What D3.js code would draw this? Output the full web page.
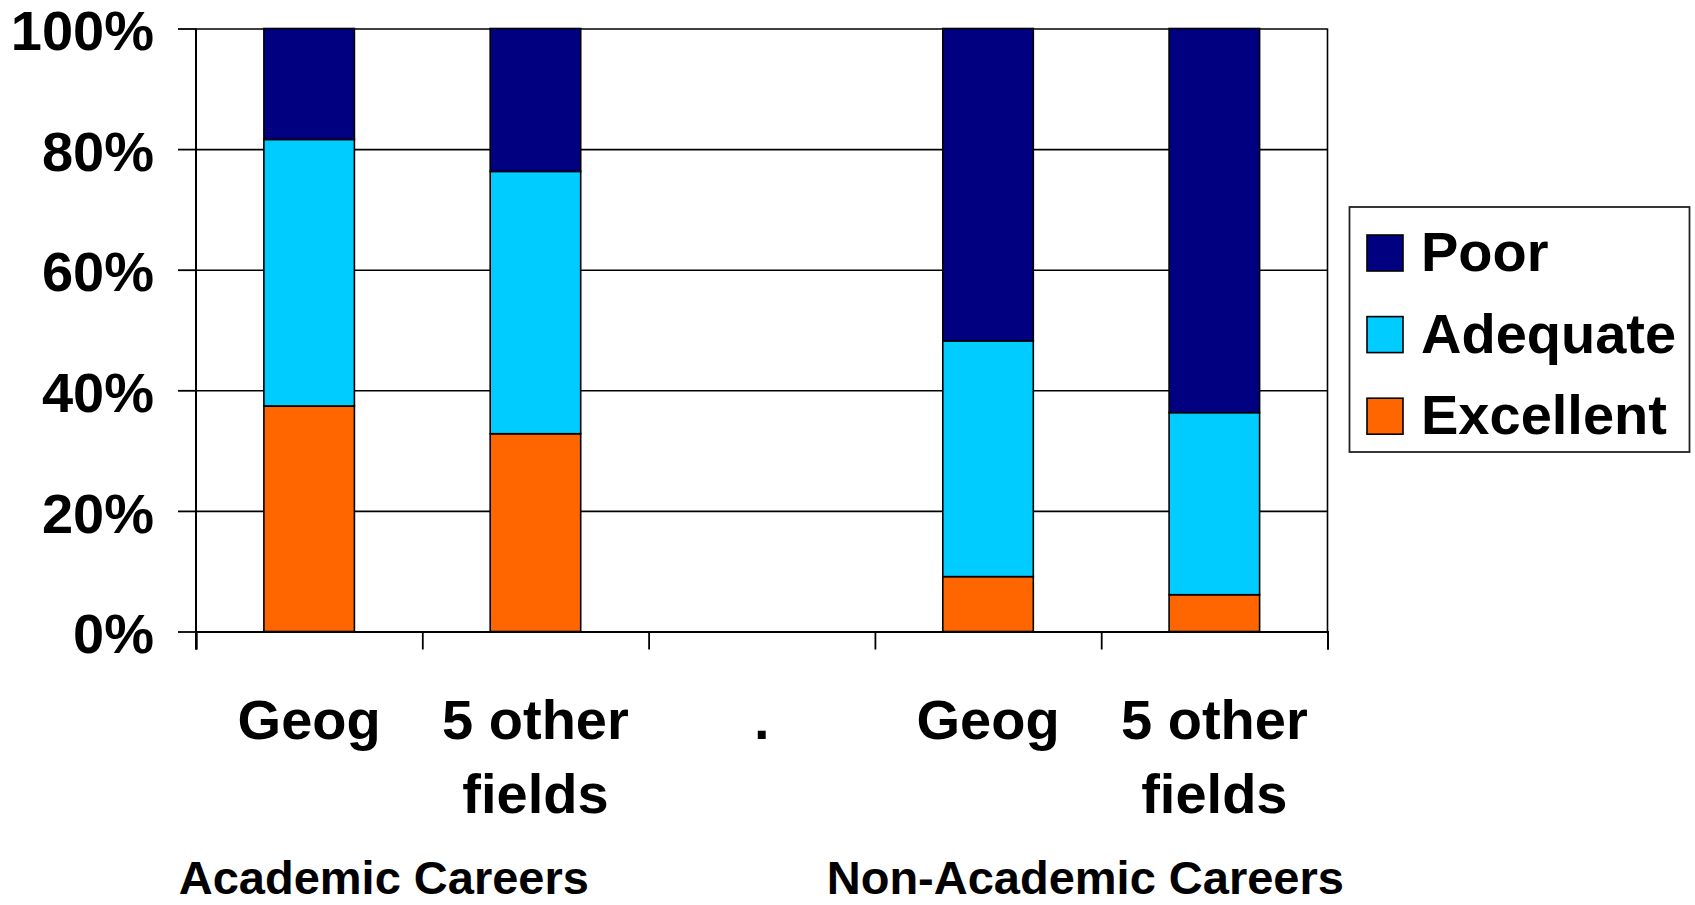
<!DOCTYPE html>
<html>
<head>
<meta charset="utf-8">
<script src="https://cdn.jsdelivr.net/npm/d3@7"></script>
<style>
  html, body { margin: 0; padding: 0; background: #fff; }
  svg { display: block; font-family: "Liberation Sans", Arial, sans-serif; font-weight: bold; }
</style>
</head>
<body>
<svg id="chart" width="1695" height="905"></svg>
<script>
// ---- data ----
const categories = ["Geog", "5 other fields", ".", "Geog", "5 other fields"];
const categoryLines = [["Geog"], ["5 other", "fields"], ["."], ["Geog"], ["5 other", "fields"]];
const seriesNames = ["Excellent", "Adequate", "Poor"];
const excellent = [37.4, 32.8, 0, 9.1, 6.1];
const adequate  = [44.2, 43.5, 0, 39.1, 30.2];
const poor      = [18.4, 23.7, 0, 51.8, 63.7];
const yTicks = [0, 20, 40, 60, 80, 100];
const groupLabels = ["Academic Careers", "Non-Academic Careers"];
const groupCenters = [0.83, 3.93]; // in category-boundary units
const colors = { Poor: "#000080", Adequate: "#00CCFF", Excellent: "#FF6600" };

// ---- layout ----
const L = 196, R = 1327.5, T = 28.5, B = 631.5;
const svg = d3.select("#chart");

const x = d3.scaleBand().domain(d3.range(categories.length)).range([L, R])
  .paddingInner(0.6).paddingOuter(0.3);
const xb = d3.scaleLinear().domain([0, categories.length]).range([L, R]);
const y = d3.scaleLinear().domain([0, 100]).range([B, T]);

// gridlines
svg.append("g").attr("transform", `translate(${L},0)`)
  .call(d3.axisLeft(y).tickValues(yTicks).tickSize(-(R - L)).tickFormat(""))
  .call(g => g.select(".domain").remove())
  .call(g => g.selectAll("line").attr("stroke", "#000").attr("stroke-width", 1.6));

// right border
svg.append("line").attr("x1", R).attr("x2", R).attr("y1", T).attr("y2", B)
  .attr("stroke", "#000").attr("stroke-width", 1.6);

// stacked bars
const rows = categories.map((c, i) => ({ i, Excellent: excellent[i], Adequate: adequate[i], Poor: poor[i] }));
const stack = d3.stack().keys(seriesNames)(rows);
svg.append("g").selectAll("g").data(stack).join("g")
  .attr("fill", d => colors[d.key])
  .selectAll("rect").data(d => d.filter(s => s[1] - s[0] > 0)).join("rect")
  .attr("x", d => x(d.data.i))
  .attr("width", x.bandwidth())
  .attr("y", d => y(d[1]))
  .attr("height", d => y(d[0]) - y(d[1]))
  .attr("stroke", "#000").attr("stroke-width", 1.6);

// y axis
svg.append("g").attr("transform", `translate(${L},0)`)
  .call(d3.axisLeft(y).tickValues(yTicks).tickSize(18).tickPadding(24).tickFormat(d => d + "%"))
  .call(g => g.select(".domain").remove())
  .call(g => g.selectAll("line").attr("stroke", "#000").attr("stroke-width", 1.8))
  .call(g => g.selectAll("text").attr("fill", "#000").attr("font-size", 56)
    .attr("font-family", "Liberation Sans, Arial, sans-serif").attr("font-weight", "bold")
    .attr("dy", "0.38em"));
svg.append("line").attr("x1", L).attr("x2", L).attr("y1", T).attr("y2", B + 18)
  .attr("stroke", "#000").attr("stroke-width", 2);

// x axis (ticks at category boundaries)
svg.append("g").attr("transform", `translate(0,${B})`)
  .call(d3.axisBottom(xb).tickValues(d3.range(categories.length + 1)).tickSize(18).tickFormat(""))
  .call(g => g.select(".domain").attr("stroke", "#000").attr("stroke-width", 2))
  .call(g => g.selectAll("line").attr("stroke", "#000").attr("stroke-width", 1.8));

// category labels
const lab = svg.append("g").selectAll("text").data(categoryLines).join("text")
  .attr("text-anchor", "middle").attr("font-size", 56).attr("fill", "#000")
  .attr("transform", (d, i) => `translate(${x(i) + x.bandwidth() / 2},739)`);
lab.selectAll("tspan").data(d => d).join("tspan")
  .attr("x", 0).attr("y", (d, j) => j * 74).text(d => d);

// group labels
svg.append("g").selectAll("text").data(groupLabels).join("text")
  .attr("x", (d, i) => xb(groupCenters[i])).attr("y", 894)
  .attr("text-anchor", "middle").attr("font-size", 47).attr("fill", "#000")
  .text(d => d);

// legend
const lg = svg.append("g");
lg.append("rect").attr("x", 1349.5).attr("y", 207).attr("width", 340).attr("height", 245)
  .attr("fill", "#fff").attr("stroke", "#222").attr("stroke-width", 1.8);
const legendOrder = ["Poor", "Adequate", "Excellent"];
const li = lg.selectAll("g").data(legendOrder).join("g")
  .attr("transform", (d, i) => `translate(1367,${235 + i * 81.6})`);
li.append("rect").attr("width", 36).attr("height", 36)
  .attr("fill", d => colors[d]).attr("stroke", "#000").attr("stroke-width", 1.6);
li.append("text").attr("x", 54).attr("y", 36).attr("font-size", 56).attr("fill", "#000")
  .text(d => d);
</script>
</body>
</html>
